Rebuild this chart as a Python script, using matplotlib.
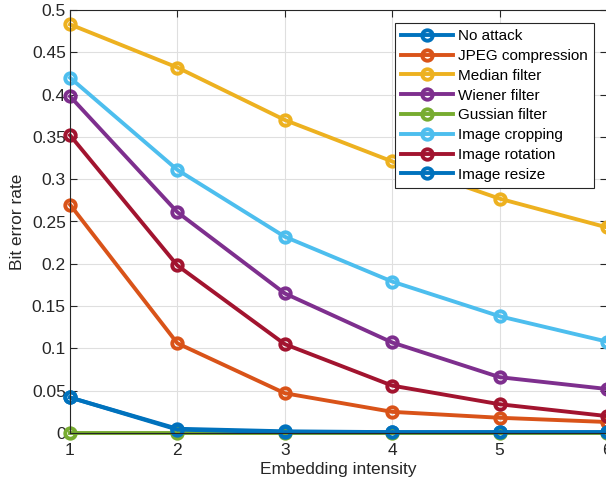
import numpy as np
import matplotlib
matplotlib.use("Agg")
import matplotlib.pyplot as plt

plt.rcParams['font.family'] = ['Liberation Sans', 'DejaVu Sans']

intensity = [1, 2, 3, 4, 5, 6]
series_names = ["No attack", "JPEG compression", "Median filter", "Wiener filter",
                "Gussian filter", "Image cropping", "Image rotation", "Image resize"]
no_attack = [0.042, 0.005, 0.002, 0.001, 0.001, 0.001]
jpeg = [0.270, 0.106, 0.047, 0.025, 0.018, 0.013]
median = [0.483, 0.432, 0.370, 0.321, 0.277, 0.243]
wiener = [0.398, 0.261, 0.165, 0.107, 0.066, 0.052]
gaussian = [0.0, 0.0, 0.0, 0.0, 0.0, 0.0]
cropping = [0.420, 0.311, 0.232, 0.179, 0.138, 0.108]
rotation = [0.352, 0.198, 0.105, 0.056, 0.034, 0.020]
resize = [0.042, 0.004, 0.001, 0.001, 0.001, 0.001]
all_series = [no_attack, jpeg, median, wiener, gaussian, cropping, rotation, resize]

colors = ["#0072BD", "#D95319", "#EDB120", "#7E2F8E", "#77AC30", "#4DBEEE", "#A2142F", "#0072BD"]

fig = plt.figure(figsize=(6.06, 4.86), dpi=100)
ax = fig.add_axes([70/606, 53/486, 537/606, 423/486])

for name, vals, c in zip(series_names, all_series, colors):
    ax.plot(intensity, vals, "-o", color=c, lw=2.8, ms=7.5, mew=2.8,
            mfc="none", label=name, clip_on=False)

ax.set_xlim(1, 6)
ax.set_ylim(0, 0.5)
ax.set_xticks(intensity)
yt = np.round(np.arange(0, 0.51, 0.05), 2)
ax.set_yticks(yt)
ax.set_yticklabels([f"{v:g}" for v in yt])
ax.tick_params(direction="in", top=True, right=True, labelsize=12.5,
               colors="#262626", length=5)
ax.tick_params(axis="x", pad=7)
ax.tick_params(axis="y", pad=3)
for sp in ax.spines.values():
    sp.set_color("#262626"); sp.set_linewidth(0.8)
ax.grid(color="#dfdfdf", lw=0.8)
ax.set_axisbelow(True)
ax.set_xlabel("Embedding intensity", fontsize=12.5, color="#262626", labelpad=3)
ax.set_ylabel("Bit error rate", fontsize=12.5, color="#262626", labelpad=5)

leg = fig.legend(loc="upper right", bbox_to_anchor=(594/606, 1 - 23/486),
                 fontsize=11, fancybox=False, edgecolor="#262626", framealpha=1,
                 borderpad=0.4, labelspacing=0.38, handlelength=3.4,
                 handletextpad=0.35, borderaxespad=0)
leg.get_frame().set_linewidth(0.8)

fig.savefig("out.png", dpi=100)
